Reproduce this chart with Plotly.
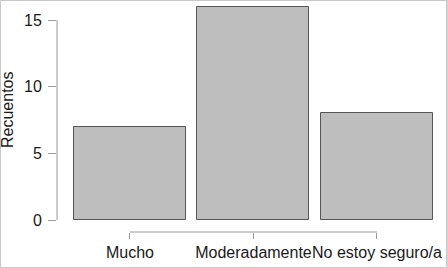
import plotly.graph_objects as go

categories = ["Mucho", "Moderadamente", "No estoy seguro/a"]
counts = [7, 16, 8]
y_ticks = [0, 5, 10, 15]

W, H = 447, 268
ml, mr, mt, mb = 57, 0, 0, 36
pw, ph = W - ml - mr, H - mt - mb

fig = go.Figure(go.Bar(
    x=categories, y=counts, width=0.907,
    marker=dict(color="#bebebe", line=dict(color="#555555", width=1)),
))

axis_col = "#9a9a9a"
txt_col = "#1a1a1a"
font = "Liberation Sans, Arial, sans-serif"
fs = 16

fig.update_layout(
    width=W, height=H, margin=dict(l=ml, r=mr, t=mt, b=mb, autoexpand=False),
    paper_bgcolor="white", plot_bgcolor="white", showlegend=False,
    font=dict(family=font, size=fs, color=txt_col),
    bargap=0,
)
fig.update_xaxes(
    range=[-0.591, 2.567], showgrid=False, zeroline=False, showline=False,
    ticks="outside", ticklen=6, tickcolor=axis_col, tickwidth=1, tickangle=0,
    tickfont=dict(size=fs, color=txt_col), ticklabelstandoff=0, automargin=False,
)
fig.update_yaxes(
    range=[-0.9, 16.5], showgrid=False, zeroline=False, showline=False,
    tickvals=y_ticks, ticks="outside", ticklen=8, tickcolor=axis_col, tickwidth=1,
    tickfont=dict(size=fs, color=txt_col), ticklabelstandoff=3, automargin=False,
)
# axis lines (R style, spanning ticks only)
fig.add_shape(type="line", xref="paper", yref="y", x0=0, x1=0,
              y0=y_ticks[0], y1=y_ticks[-1], line=dict(color=axis_col, width=1))
fig.add_shape(type="line", xref="x", yref="paper", x0=0, x1=len(categories) - 1,
              y0=0, y1=0, line=dict(color=axis_col, width=1))
# outer border
fig.add_shape(type="rect", xref="paper", yref="paper",
              x0=(0.5 - ml) / pw, x1=(W - 0.5 - ml) / pw,
              y0=(ph - (H - 0.5)) / ph, y1=(ph - 0.5) / ph,
              line=dict(color="#c8c8c8", width=1), fillcolor="rgba(0,0,0,0)")
fig.add_annotation(text="Recuentos", xref="paper", yref="paper",
                   x=(7 - ml) / pw, y=(ph - 110) / ph, textangle=-90,
                   showarrow=False, font=dict(size=fs, color=txt_col),
                   xanchor="center", yanchor="middle")

fig.write_html("out.html")
